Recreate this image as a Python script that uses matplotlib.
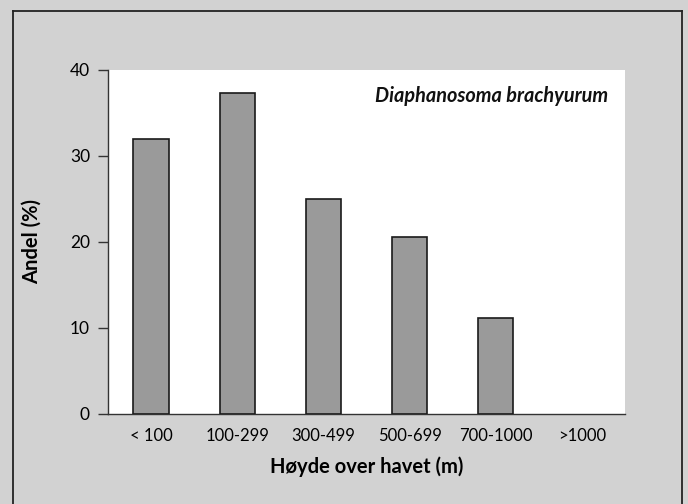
import numpy as np
import matplotlib
matplotlib.use("Agg")
import matplotlib.pyplot as plt
from matplotlib.lines import Line2D

# data
categories = ['< 100', '100-299', '300-499', '500-699', '700-1000', '>1000']
andel = [32.0, 37.3, 25.0, 20.6, 11.2, 0.0]
yticks = [0, 10, 20, 30, 40]

plt.rcParams['font.family'] = ['Lato', 'DejaVu Sans']

fig = plt.figure(figsize=(6.88, 5.04), dpi=100)
fig.patch.set_facecolor('#d2d2d2')

# frame round the figure (left, top, right)
fx0, fx1, fy1 = 13 / 688, 682 / 688, 1 - 11 / 504
for xs, ys in [([fx0, fx0], [0, fy1]), ([fx0, fx1], [fy1, fy1]), ([fx1, fx1], [fy1, 0])]:
    fig.add_artist(Line2D(xs, ys, color='#222222', lw=1.3, transform=fig.transFigure))

ax = fig.add_axes([108 / 688, 90 / 504, 517 / 688, 344 / 504])
ax.set_facecolor('white')

x = np.arange(len(categories))
# no outline for empty bars
edge_w = [1.2 if v > 0 else 0 for v in andel]
ax.bar(x, andel, width=0.41, color='#9a9a9a', edgecolor='#1a1a1a', linewidth=edge_w, zorder=3)

ax.set_xlim(-0.5, 5.5)
ax.set_ylim(0, 40)
ax.set_yticks(yticks)
ax.set_xticks(x)
ax.set_xticklabels(categories)

for side in ['top', 'right']:
    ax.spines[side].set_visible(False)
for side in ['left', 'bottom']:
    ax.spines[side].set_color('#333333')
    ax.spines[side].set_linewidth(1.0)

ax.tick_params(axis='y', direction='out', length=7, width=1, color='#333333',
               labelsize=12.5, pad=6)
ax.tick_params(axis='x', length=0, labelsize=12, pad=10)

ax.set_xlabel('Høyde over havet (m)', fontsize=14.5, fontweight='bold', labelpad=9)
ax.set_ylabel('Andel (%)', fontsize=14.5, fontweight='bold', labelpad=20)

ax.text(0.967, 0.925, 'Diaphanosoma brachyurum', transform=ax.transAxes,
        ha='right', va='center', fontsize=14.3, fontstyle='italic', fontweight='bold',
        color='#111111')

fig.savefig('out.png', dpi=100, facecolor=fig.get_facecolor())
